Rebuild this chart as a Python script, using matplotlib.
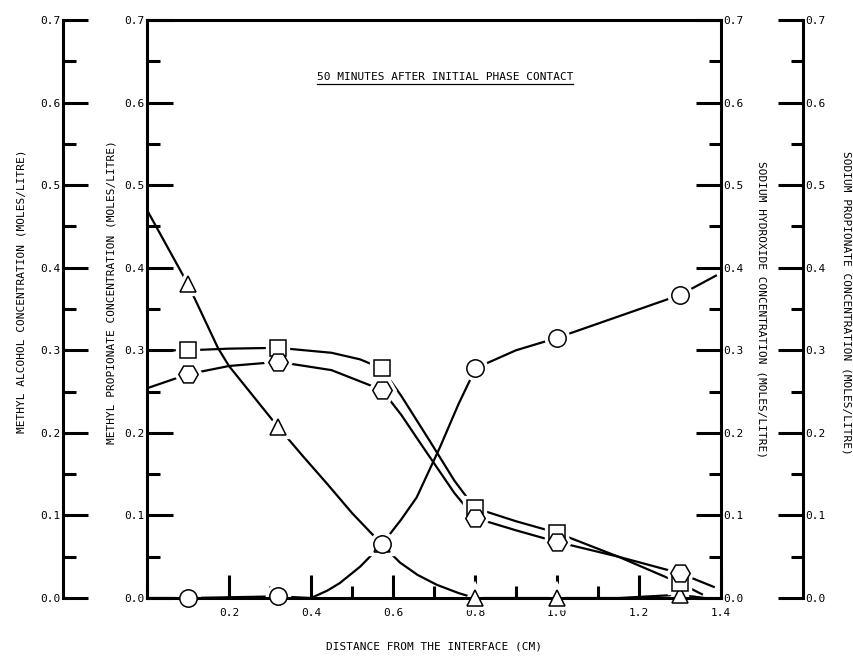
import matplotlib.pyplot as plt
from matplotlib.lines import Line2D
from matplotlib.ticker import MultipleLocator, FixedLocator

plt.rcParams['font.family'] = ['DejaVu Sans Mono']
plt.rcParams['font.size'] = 8

# marker positions (distance in cm, concentration in moles/litre)
x_pts = [0.1, 0.32, 0.573, 0.8, 1.0, 1.3]
alcohol_pts = [0.38, 0.207, 0.065, 0.0, 0.0, 0.004]        # triangles
propionate_pts = [0.300, 0.303, 0.278, 0.109, 0.079, 0.018]  # squares
na_prop_pts = [0.271, 0.286, 0.252, 0.097, 0.068, 0.030]    # hexagons
naoh_pts = [0.0, 0.002, 0.065, 0.278, 0.315, 0.367]          # circles

# hand drawn curves
alcohol_cx = [0, 0.1, 0.173, 0.2, 0.32, 0.38, 0.44, 0.5, 0.573, 0.617, 0.66, 0.707, 0.76, 0.8,
              0.9, 1.0, 1.15, 1.3, 1.36]
alcohol_cy = [0.47, 0.38, 0.303, 0.281, 0.207, 0.172, 0.138, 0.103, 0.065, 0.043, 0.028, 0.016,
              0.006, 0.0, 0.0, 0.0, 0.0, 0.004, 0.0]
propionate_cx = [0, 0.1, 0.2, 0.32, 0.45, 0.52, 0.573, 0.62, 0.69, 0.75, 0.8, 0.9, 1.0, 1.15, 1.3, 1.356]
propionate_cy = [0.300, 0.300, 0.302, 0.303, 0.297, 0.289, 0.278, 0.245, 0.19, 0.142, 0.109, 0.093,
                 0.079, 0.05, 0.018, 0.004]
na_prop_cx = [0, 0.1, 0.2, 0.32, 0.45, 0.573, 0.62, 0.673, 0.75, 0.8, 0.9, 1.0, 1.15, 1.3, 1.385]
na_prop_cy = [0.254, 0.271, 0.281, 0.286, 0.276, 0.252, 0.222, 0.183, 0.127, 0.097, 0.082, 0.068,
              0.05, 0.030, 0.013]
naoh_cx = [0, 0.1, 0.32, 0.4, 0.44, 0.47, 0.52, 0.573, 0.62, 0.658, 0.715, 0.76, 0.788, 0.8, 0.9,
           1.0, 1.15, 1.3, 1.39]
naoh_cy = [0, 0, 0.002, 0.0, 0.009, 0.018, 0.038, 0.065, 0.095, 0.122, 0.183, 0.235, 0.264, 0.278,
           0.30, 0.315, 0.341, 0.367, 0.391]

x_ticks = [0.2, 0.4, 0.6, 0.8, 1.0, 1.2, 1.4]
x_tick_labels = ["0.2", "0.4", "0.6", "0.8", "1.0", "1.2", "1.4"]
title = "50 MINUTES AFTER INITIAL PHASE CONTACT"
xlabel = "DISTANCE FROM THE INTERFACE (CM)"
ylabels = ["METHYL ALCOHOL CONCENTRATION (MOLES/LITRE)",
           "METHYL PROPIONATE CONCENTRATION (MOLES/LITRE)",
           "SODIUM HYDROXIDE CONCENTRATION (MOLES/LITRE)",
           "SODIUM PROPIONATE CONCENTRATION (MOLES/LITRE)"]

fig = plt.figure(figsize=(8.54, 6.6), dpi=100)
ax = fig.add_axes([0.1721, 0.0939, 0.6721, 0.8758])
ax.set_xlim(0, 1.4)
ax.set_ylim(0, 0.7)

lw = 1.6
sw = 2.2

# curves
for cx, cy in [(alcohol_cx, alcohol_cy), (propionate_cx, propionate_cy),
               (na_prop_cx, na_prop_cy), (naoh_cx, naoh_cy)]:
    ax.plot(cx, cy, color="black", lw=lw, zorder=2, solid_capstyle="butt",
            solid_joinstyle="round")

# markers: white halo first so the lines stop short of them, then the outline
series = [(alcohol_pts, "^", 12), (propionate_pts, "s", 11),
          (na_prop_pts, "H", 14), (naoh_pts, "o", 12.5)]
for ys, m, ms in series:
    ax.plot(x_pts, ys, ls="none", marker=m, ms=ms, mfc="white", mec="white",
            mew=6, zorder=2.3, clip_on=False)
for ys, m, ms in series:
    ax.plot(x_pts, ys, ls="none", marker=m, ms=ms, mfc="white", mec="black",
            mew=1.1, zorder=4, clip_on=False)

# main axes: left spine (methyl propionate) and bottom
for s in ax.spines.values():
    s.set_linewidth(sw)
ax.spines["right"].set_visible(False)
ax.xaxis.set_major_locator(FixedLocator(x_ticks))
ax.set_xticklabels(x_tick_labels)
ax.xaxis.set_minor_locator(MultipleLocator(0.1))
ax.yaxis.set_major_locator(MultipleLocator(0.1))
ax.yaxis.set_minor_locator(MultipleLocator(0.05))
ax.tick_params(axis="x", which="major", direction="in", length=16.5, width=sw, pad=7)
ax.tick_params(axis="x", which="minor", direction="in", length=8.5, width=sw)
ax.tick_params(axis="y", which="major", direction="in", length=18.5, width=sw, pad=2)
ax.tick_params(axis="y", which="minor", direction="in", length=9.5, width=sw)
ax.yaxis.set_major_formatter(plt.FormatStrFormatter("%.1f"))
ax.set_ylabel(ylabels[1], va="center", ha="center")
ax.yaxis.set_label_coords(-0.061, 0.53)
ax.set_xlabel(xlabel, labelpad=17)


def extra_axis(side, pos, label, lx, ly):
    a = ax.twinx()
    a.set_ylim(0, 0.7)
    for s in a.spines.values():
        s.set_visible(False)
    a.spines[side].set_visible(True)
    a.spines[side].set_linewidth(sw)
    a.spines[side].set_position(("axes", pos))
    a.yaxis.set_ticks_position(side)
    a.yaxis.set_label_position(side)
    a.yaxis.set_major_locator(MultipleLocator(0.1))
    a.yaxis.set_minor_locator(MultipleLocator(0.05))
    a.yaxis.set_major_formatter(plt.FormatStrFormatter("%.1f"))
    a.tick_params(axis="y", which="major", direction="in", length=18, width=sw, pad=2)
    a.tick_params(axis="y", which="minor", direction="in", length=9, width=sw)
    rot = 90 if side == "left" else -90
    a.set_ylabel(label, rotation=rot, va="center", ha="center")
    a.yaxis.set_label_coords(lx, ly)
    return a


ax_l = extra_axis("left", -0.1463, ylabels[0], -0.2178, 0.53)
ax_r = extra_axis("right", 1.0, ylabels[2], 1.0714, 0.5)
ax_rr = extra_axis("right", 1.1429, ylabels[3], 1.2195, 0.51)

t = ax.text(0.727, 0.631, title, ha="center", va="center", fontsize=8)
fig.canvas.draw()
bb = t.get_window_extent()
fig.add_artist(Line2D([bb.x0 / 854, bb.x1 / 854], [(bb.y0 - 2) / 660, (bb.y0 - 2) / 660],
                      color="black", lw=0.9))

fig.savefig("out.png", dpi=100)
